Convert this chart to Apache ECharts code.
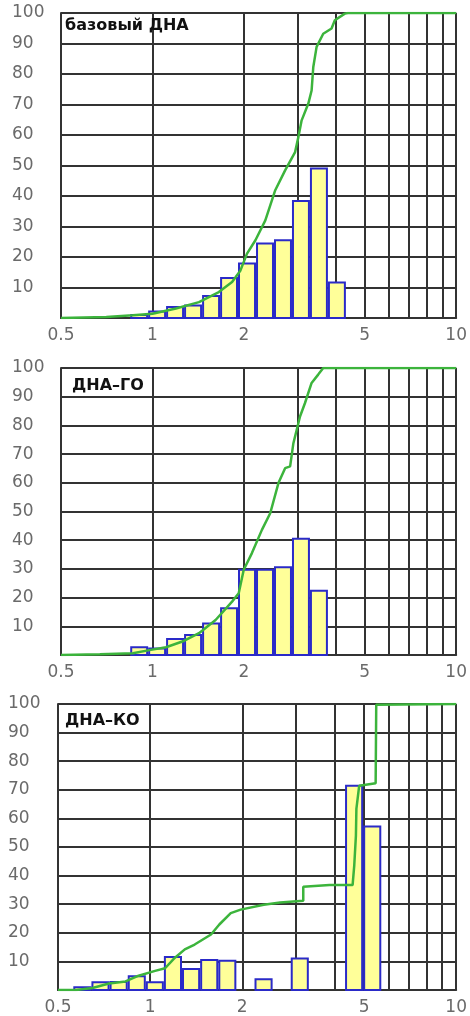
<!DOCTYPE html>
<html>
<head>
<meta charset="utf-8">
<script src="https://cdn.jsdelivr.net/npm/echarts@6/dist/echarts.min.js"></script>
<style>
  html, body { margin: 0; padding: 0; background: #fff; }
  #chart { width: 470px; height: 1016px; }
</style>
</head>
<body>
<div id="chart"></div>
<script>
// границы классов (лог. шаг), общие для всех трёх гистограмм
const binEdges = [0.561, 0.643, 0.737, 0.845, 0.968, 1.109, 1.271, 1.457, 1.670,
  1.913, 2.193, 2.513, 2.880, 3.300, 3.782, 4.334, 4.967, 5.692];

// доли по классам, %
const histBase = [0, 0, 0, 1.0, 2.1, 3.6, 4.1, 7.2, 13.1, 17.9, 24.4, 25.5, 38.4, 49.0, 11.6, 0, 0];
const histGO   = [0, 0, 0, 2.7, 2.3, 5.6, 7.0, 11.0, 16.3, 29.7, 29.7, 30.6, 40.5, 22.4, 0, 0, 0];
const histKO   = [1.0, 2.7, 2.8, 4.8, 2.7, 11.5, 7.3, 10.5, 10.2, 0, 3.8, 0, 11.0, 0, 0, 71.4, 57.2];

// накопленные кривые [x, %]
const cumBase = [[0.5, 0], [0.705, 0.3], [0.862, 0.9], [1.0, 1.4], [1.195, 3.1], [1.423, 5.2],
  [1.654, 8.5], [1.829, 11.8], [1.949, 15.6], [2.048, 21.1], [2.183, 25.5], [2.353, 32.0],
  [2.537, 41.9], [2.734, 48.4], [2.949, 54.4], [3.023, 59.3], [3.099, 64.8], [3.26, 70.3],
  [3.342, 74.6], [3.385, 82.3], [3.471, 88.9], [3.65, 93.2], [3.887, 94.9], [3.986, 97.6],
  [4.298, 99.8], [4.4, 100], [10, 100]];
const cumGO = [[0.5, 0], [0.671, 0.3], [0.862, 0.6], [0.977, 1.7], [1.108, 2.7], [1.255, 4.7],
  [1.423, 7.6], [1.614, 12.2], [1.829, 18.6], [1.923, 21.5], [1.998, 29.7], [2.126, 35.5],
  [2.293, 43.6], [2.442, 49.4], [2.599, 59.9], [2.734, 65.1], [2.84, 65.7], [2.911, 73.8],
  [3.061, 83.1], [3.179, 87.8], [3.342, 94.8], [3.513, 97.7], [3.65, 100], [10, 100]];
const cumKO = [[0.5, 0], [0.573, 0], [0.648, 0.7], [0.734, 2.3], [0.831, 3.0], [0.917, 5.0],
  [1.038, 6.7], [1.119, 7.6], [1.205, 11.3], [1.298, 14.2], [1.398, 15.9], [1.581, 19.4],
  [1.683, 22.9], [1.834, 26.9], [1.976, 28.1], [2.351, 29.8], [2.659, 30.6], [3.165, 31.2],
  [3.165, 36.1], [3.855, 36.7], [4.587, 36.7], [4.645, 43.6], [4.703, 54.0], [4.72, 63.3],
  [4.82, 71.4], [4.943, 71.6], [5.456, 72.3], [5.48, 99.7], [5.5, 100], [10, 100]];

const panelNames = ['базовый ДНА', 'ДНА–ГО', 'ДНА–КО'];
const xLabelValues = [0.5, 1, 2, 5, 10];
const xLineValues = [0.5, 1, 2, 3, 4, 5, 6, 7, 8, 9, 10];

const grids = [
  { left: 61, top: 13, width: 398, height: 305 },
  { left: 61, top: 368, width: 399, height: 287 },
  { left: 58, top: 704, width: 404, height: 289 }
];
const titlePos = [[65, 18], [72, 378], [65, 713]];
const yMargins = [49, 49, 50];

const lineColor = '#333';
const labelFont = { fontFamily: 'DejaVu Sans', fontSize: 17, color: '#6a6a6a' };

function binData(hist) {
  const out = [];
  hist.forEach(function (v, i) {
    if (v > 0) out.push([binEdges[i], binEdges[i + 1], v]);
  });
  return out;
}

function renderBar(params, api) {
  const p0 = api.coord([api.value(0), 0]);
  const p1 = api.coord([api.value(1), api.value(2)]);
  return {
    type: 'rect',
    shape: { x: p0[0] + 1, y: p1[1], width: p1[0] - p0[0] - 2, height: p0[1] - p1[1] },
    style: { fill: '#ffff99', stroke: '#2a2ac8', lineWidth: 2 }
  };
}

const hists = [histBase, histGO, histKO];
const cums = [cumBase, cumGO, cumKO];

const option = {
  animation: false,
  backgroundColor: '#fff',
  title: panelNames.map(function (t, i) {
    return {
      text: t, left: titlePos[i][0], top: titlePos[i][1], padding: 0,
      textStyle: { fontFamily: 'DejaVu Sans', fontWeight: 'bold', fontSize: 16, color: '#111' }
    };
  }),
  grid: grids,
  xAxis: grids.map(function (g, i) {
    return {
      type: 'log', logBase: 10, gridIndex: i, min: 0.5, max: 10,
      axisLine: { show: true, lineStyle: { color: lineColor, width: 2 } },
      axisTick: { show: false, customValues: xLineValues },
      axisLabel: Object.assign({ customValues: xLabelValues, margin: 9 }, labelFont),
      splitLine: { show: true, lineStyle: { color: lineColor, width: 2 } }
    };
  }),
  yAxis: grids.map(function (g, i) {
    return {
      type: 'value', gridIndex: i, min: 0, max: 100, interval: 10,
      axisLine: { show: true, lineStyle: { color: lineColor, width: 2 } },
      axisTick: { show: false },
      axisLabel: Object.assign({
        align: 'left', margin: yMargins[i],
        formatter: function (v) { return v === 0 ? '' : String(v); }
      }, labelFont),
      splitLine: { show: true, lineStyle: { color: lineColor, width: 2 } }
    };
  }),
  series: []
};

hists.forEach(function (h, i) {
  option.series.push({
    type: 'custom', xAxisIndex: i, yAxisIndex: i, z: 3,
    renderItem: renderBar,
    encode: { x: [0, 1], y: 2 },
    data: binData(h)
  });
  option.series.push({
    type: 'line', xAxisIndex: i, yAxisIndex: i, z: 4,
    showSymbol: false, silent: true,
    lineStyle: { color: '#3cb43c', width: 2.5 },
    data: cums[i]
  });
});

const chart = echarts.init(document.getElementById('chart'));
chart.setOption(option);
</script>
</body>
</html>
